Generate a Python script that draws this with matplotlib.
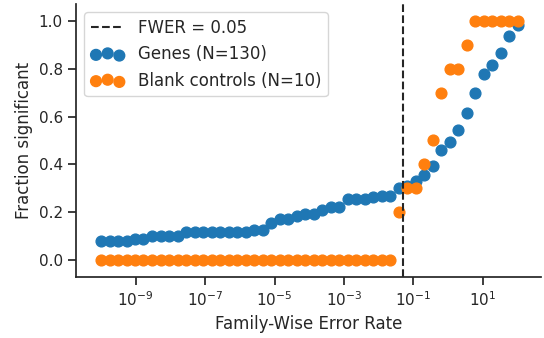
import matplotlib
matplotlib.use("Agg")
import matplotlib.pyplot as plt
import seaborn as sns

# exponents of the family-wise error rate grid (50 points, -10 .. 2)
fwer_exp = [-10.0, -9.755, -9.51, -9.265, -9.02, -8.776, -8.531, -8.286, -8.041, -7.796,
            -7.551, -7.306, -7.061, -6.816, -6.571, -6.327, -6.082, -5.837, -5.592, -5.347,
            -5.102, -4.857, -4.612, -4.367, -4.122, -3.878, -3.633, -3.388, -3.143, -2.898,
            -2.653, -2.408, -2.163, -1.918, -1.673, -1.429, -1.184, -0.939, -0.694, -0.449,
            -0.204, 0.041, 0.286, 0.531, 0.776, 1.02, 1.265, 1.51, 1.755, 2.0]

genes = [0.077, 0.077, 0.077, 0.077, 0.085, 0.085, 0.100, 0.100, 0.100, 0.100,
         0.115, 0.115, 0.115, 0.115, 0.115, 0.115, 0.115, 0.115, 0.123, 0.123,
         0.154, 0.169, 0.169, 0.185, 0.192, 0.192, 0.208, 0.223, 0.223, 0.254,
         0.254, 0.254, 0.262, 0.269, 0.269, 0.300, 0.308, 0.331, 0.354, 0.392,
         0.462, 0.492, 0.546, 0.615, 0.700, 0.777, 0.815, 0.869, 0.938, 0.985]

blanks = [0.0] * 35 + [0.2, 0.3, 0.3, 0.4, 0.5, 0.7, 0.8, 0.8, 0.9,
                       1.0, 1.0, 1.0, 1.0, 1.0, 1.0]

fwer_cut = 0.05
x = [10 ** e for e in fwer_exp]

sns.set_style("ticks")
sns.set_context("notebook")
plt.rcParams["font.family"] = ["DejaVu Sans"]

fig = plt.figure(figsize=(5.44, 3.38), dpi=100)
ax = fig.add_axes([0.1397, 0.1802, 0.854, 0.8083])

ax.axvline(fwer_cut, color="#262626", linestyle="--", linewidth=1.5,
           label="FWER = {}".format(fwer_cut))
ax.scatter(x, genes, s=60, color="#1f77b4", label="Genes (N=130)")
ax.scatter(x, blanks, s=60, color="#ff7f0e", label="Blank controls (N=10)")

ax.set_xscale("log")
ax.set_xlim(10 ** -10.72, 10 ** 2.66)
ax.set_ylim(-0.073, 1.073)
ax.set_xticks([1e-9, 1e-7, 1e-5, 1e-3, 1e-1, 1e1])
ax.minorticks_off()
ax.set_yticks([0.0, 0.2, 0.4, 0.6, 0.8, 1.0])

ax.set_xlabel("Family-Wise Error Rate")
ax.set_ylabel("Fraction significant")
ax.legend(loc="upper left", scatterpoints=3, fontsize=12)
sns.despine(ax=ax)

fig.savefig("out.png", dpi=100)
